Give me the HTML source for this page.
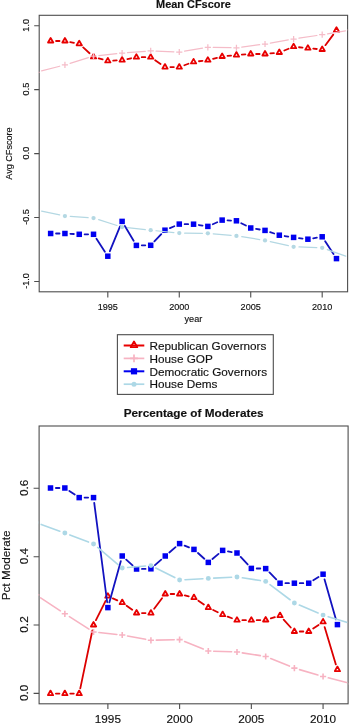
<!DOCTYPE html>
<html><head><meta charset="utf-8"><style>
html,body{margin:0;padding:0;background:#fff;}
body{width:350px;height:726px;overflow:hidden;}
svg{display:block;font-family:"Liberation Sans",sans-serif;will-change:transform;}
text{fill:#111;stroke:#111;stroke-width:0.15px;}
</style></head><body>
<svg width="350" height="726" viewBox="0 0 350 726">
<rect width="350" height="726" fill="#fff"/>
<defs><clipPath id="c1"><rect x="38.60" y="14.70" width="309.60" height="277.70"/></clipPath>
<clipPath id="c2"><rect x="38.50" y="425.40" width="310.20" height="279.00"/></clipPath></defs>
<rect x="39.20" y="15.30" width="308.40" height="276.50" fill="none" stroke="#4d4d4d" stroke-width="1.1"/>
<path d="M34.20 25.80H39.20 M34.20 89.60H39.20 M34.20 153.60H39.20 M34.20 217.50H39.20 M34.20 281.50H39.20 M107.81 291.80V297.50 M179.27 291.80V297.50 M250.73 291.80V297.50 M322.19 291.80V297.50" stroke="#4d4d4d" stroke-width="1.1" fill="none"/>
<text x="0" y="0" transform="translate(28.60 25.30) rotate(-90)" text-anchor="middle" font-size="9.10">1.0</text>
<text x="0" y="0" transform="translate(28.60 89.10) rotate(-90)" text-anchor="middle" font-size="9.10">0.5</text>
<text x="0" y="0" transform="translate(28.60 153.10) rotate(-90)" text-anchor="middle" font-size="9.10">0.0</text>
<text x="0" y="0" transform="translate(28.60 217.00) rotate(-90)" text-anchor="middle" font-size="9.10">-0.5</text>
<text x="0" y="0" transform="translate(28.60 281.00) rotate(-90)" text-anchor="middle" font-size="9.10">-1.0</text>
<text x="107.81" y="309.70" text-anchor="middle" font-size="9.10">1995</text>
<text x="179.27" y="309.70" text-anchor="middle" font-size="9.10">2000</text>
<text x="250.73" y="309.70" text-anchor="middle" font-size="9.10">2005</text>
<text x="322.19" y="309.70" text-anchor="middle" font-size="9.10">2010</text>
<text x="0" y="0" transform="translate(12.30 153.55) rotate(-90)" text-anchor="middle" font-size="9.10">Avg CFscore</text>
<text x="193.40" y="321.90" text-anchor="middle" font-size="9.10">year</text>
<text x="0" y="0" transform="translate(193.40 8.20) scale(1 0.950)" text-anchor="middle" font-size="10.95" font-weight="bold">Mean CFscore</text>
<g clip-path="url(#c1)">
<path d="M56.04 41.00L59.53 41.00 M70.23 42.04L73.93 42.76 M83.21 47.45L89.54 53.25 M98.72 58.36L102.61 59.44 M113.20 60.60L116.71 60.40 M127.39 59.03L131.10 58.27 M141.79 57.20L145.29 57.20 M155.13 60.27L160.54 64.03 M170.38 67.10L173.87 67.10 M184.34 65.25L188.49 63.75 M198.92 61.26L202.49 60.84 M213.08 58.85L216.92 57.85 M227.52 55.97L231.06 55.63 M241.82 54.69L245.35 54.41 M256.13 54.00L259.62 54.00 M270.39 53.44L273.94 53.06 M284.32 50.47L288.60 48.73 M298.98 47.26L302.53 47.64 M313.28 48.69L316.81 49.01 M325.41 45.17L333.26 34.63" stroke="#dc0000" stroke-width="1.80" fill="none" stroke-linecap="round"/>
<path d="M50.64 37.97L53.27 42.52L48.02 42.52Z M64.93 37.97L67.56 42.52L62.31 42.52Z M79.23 40.77L81.85 45.32L76.60 45.32Z M93.52 53.87L96.14 58.42L90.89 58.42Z M107.81 57.87L110.44 62.42L105.18 62.42Z M122.10 57.07L124.73 61.62L119.48 61.62Z M136.39 54.17L139.02 58.72L133.77 58.72Z M150.69 54.17L153.31 58.72L148.06 58.72Z M164.98 64.07L167.60 68.62L162.35 68.62Z M179.27 64.07L181.90 68.62L176.64 68.62Z M193.56 58.87L196.19 63.42L190.94 63.42Z M207.85 57.17L210.48 61.72L205.23 61.72Z M222.15 53.47L224.77 58.02L219.52 58.02Z M236.44 52.07L239.06 56.62L233.81 56.62Z M250.73 50.97L253.36 55.52L248.10 55.52Z M265.02 50.97L267.65 55.52L262.40 55.52Z M279.31 49.47L281.94 54.02L276.69 54.02Z M293.61 43.67L296.23 48.22L290.98 48.22Z M307.90 45.17L310.52 49.72L305.27 49.72Z M322.19 46.47L324.82 51.02L319.56 51.02Z M336.48 27.27L339.11 31.82L333.86 31.82Z" stroke="#e80000" stroke-width="1.80" fill="none" stroke-linejoin="round"/>
<path d="M41.58 70.95L59.71 66.25 M70.09 63.31L88.36 57.69 M98.89 55.54L116.73 53.66 M127.49 52.69L145.30 51.31 M156.08 51.11L173.87 51.79 M184.60 51.12L202.53 48.18 M213.25 47.39L231.04 47.71 M241.79 47.09L259.67 44.71 M270.34 43.07L288.29 39.93 M298.95 38.20L316.85 35.50 M327.52 33.81L345.45 30.79" stroke="#f5bcc8" stroke-width="1.25" fill="none" stroke-linecap="round"/>
<path d="M33.25 72.30H39.45M36.35 69.20V75.40 M61.83 64.90H68.03M64.93 61.80V68.00 M90.42 56.10H96.62M93.52 53.00V59.20 M119.00 53.10H125.20M122.10 50.00V56.20 M147.59 50.90H153.79M150.69 47.80V54.00 M176.17 52.00H182.37M179.27 48.90V55.10 M204.75 47.30H210.95M207.85 44.20V50.40 M233.34 47.80H239.54M236.44 44.70V50.90 M261.92 44.00H268.12M265.02 40.90V47.10 M290.51 39.00H296.71M293.61 35.90V42.10 M319.09 34.70H325.29M322.19 31.60V37.80 M347.67 29.90H353.87M350.77 26.80V33.00" stroke="#f5bcc8" stroke-width="1.25" fill="none"/>
<path d="M56.04 233.50L59.53 233.50 M70.33 233.80L73.83 234.00 M84.63 234.30L88.12 234.30 M96.47 238.82L104.86 251.68 M109.86 251.20L120.05 226.40 M124.86 226.04L133.63 240.76 M141.79 245.36L145.29 245.34 M154.40 241.38L161.27 234.12 M169.94 228.08L174.30 226.22 M184.67 224.14L188.16 224.16 M198.90 225.02L202.52 225.58 M212.80 224.22L217.20 222.28 M227.54 220.36L231.04 220.54 M241.26 223.23L245.91 225.57 M256.06 228.89L259.70 229.51 M270.14 232.12L274.19 233.48 M284.65 236.02L288.27 236.58 M298.96 238.07L302.54 238.53 M313.22 238.31L316.86 237.69 M325.15 241.32L333.52 254.08" stroke="#1212c0" stroke-width="1.80" fill="none" stroke-linecap="round"/>
<g fill="#0000f0"><rect x="47.89" y="230.75" width="5.50" height="5.50"/><rect x="62.18" y="230.75" width="5.50" height="5.50"/><rect x="76.48" y="231.55" width="5.50" height="5.50"/><rect x="90.77" y="231.55" width="5.50" height="5.50"/><rect x="105.06" y="253.45" width="5.50" height="5.50"/><rect x="119.35" y="218.65" width="5.50" height="5.50"/><rect x="133.64" y="242.65" width="5.50" height="5.50"/><rect x="147.94" y="242.55" width="5.50" height="5.50"/><rect x="162.23" y="227.45" width="5.50" height="5.50"/><rect x="176.52" y="221.35" width="5.50" height="5.50"/><rect x="190.81" y="221.45" width="5.50" height="5.50"/><rect x="205.10" y="223.65" width="5.50" height="5.50"/><rect x="219.40" y="217.35" width="5.50" height="5.50"/><rect x="233.69" y="218.05" width="5.50" height="5.50"/><rect x="247.98" y="225.25" width="5.50" height="5.50"/><rect x="262.27" y="227.65" width="5.50" height="5.50"/><rect x="276.56" y="232.45" width="5.50" height="5.50"/><rect x="290.86" y="234.65" width="5.50" height="5.50"/><rect x="305.15" y="236.45" width="5.50" height="5.50"/><rect x="319.44" y="234.05" width="5.50" height="5.50"/><rect x="333.73" y="255.85" width="5.50" height="5.50"/></g>
<path d="M41.63 211.13L59.65 214.97 M70.32 216.48L88.13 217.72 M98.67 219.72L116.95 225.48 M127.47 227.68L145.32 229.62 M156.06 230.75L173.90 232.55 M184.67 233.14L202.45 233.26 M213.23 233.79L231.06 235.41 M241.77 236.74L259.69 239.56 M270.29 241.58L288.34 245.62 M299.00 246.99L316.79 247.61 M327.28 249.61L345.69 256.19" stroke="#b4d8e3" stroke-width="1.25" fill="none" stroke-linecap="round"/>
<g fill="#b4d8e3"><circle cx="36.35" cy="210.00" r="2.15"/><circle cx="64.93" cy="216.10" r="2.15"/><circle cx="93.52" cy="218.10" r="2.15"/><circle cx="122.10" cy="227.10" r="2.15"/><circle cx="150.69" cy="230.20" r="2.15"/><circle cx="179.27" cy="233.10" r="2.15"/><circle cx="207.85" cy="233.30" r="2.15"/><circle cx="236.44" cy="235.90" r="2.15"/><circle cx="265.02" cy="240.40" r="2.15"/><circle cx="293.61" cy="246.80" r="2.15"/><circle cx="322.19" cy="247.80" r="2.15"/><circle cx="350.77" cy="258.00" r="2.15"/></g>
</g>
<rect x="117.40" y="334.70" width="155.90" height="59.70" fill="none" stroke="#4d4d4d" stroke-width="1.1"/>
<path d="M123.70 345.50H144.30" stroke="#e80000" stroke-width="2.00"/>
<path d="M134.00 341.44L137.30 347.16L130.70 347.16Z" stroke="#e80000" stroke-width="1.8" fill="none" stroke-linejoin="round"/>
<text x="149.5" y="349.70" font-size="11.75">Republican Governors</text>
<path d="M123.70 358.40H144.30" stroke="#f7b3c2" stroke-width="1.70"/>
<path d="M130.10 358.40H137.90M134.00 354.50V362.30" stroke="#f7b3c2" stroke-width="1.7" fill="none"/>
<text x="149.5" y="362.60" font-size="11.75">House GOP</text>
<path d="M123.70 371.30H144.30" stroke="#0000f0" stroke-width="2.00"/>
<g fill="#0000f0"><rect x="130.90" y="368.20" width="6.20" height="6.20"/></g>
<text x="149.5" y="375.50" font-size="11.75">Democratic Governors</text>
<path d="M123.70 384.20H144.30" stroke="#add8e6" stroke-width="1.70"/>
<circle cx="134.00" cy="384.20" r="2.5" fill="#add8e6"/>
<text x="149.5" y="388.40" font-size="11.75">House Dems</text>
<rect x="39.10" y="426.00" width="309.00" height="277.80" fill="none" stroke="#4d4d4d" stroke-width="1.1"/>
<path d="M33.60 693.40H39.10 M33.60 625.00H39.10 M33.60 556.70H39.10 M33.60 488.30H39.10 M107.88 703.80V709.10 M179.61 703.80V709.10 M251.34 703.80V709.10 M323.07 703.80V709.10" stroke="#4d4d4d" stroke-width="1.1" fill="none"/>
<text x="0" y="0" transform="translate(27.90 692.90) rotate(-90)" text-anchor="middle" font-size="11.75">0.0</text>
<text x="0" y="0" transform="translate(27.90 624.50) rotate(-90)" text-anchor="middle" font-size="11.75">0.2</text>
<text x="0" y="0" transform="translate(27.90 556.20) rotate(-90)" text-anchor="middle" font-size="11.75">0.4</text>
<text x="0" y="0" transform="translate(27.90 487.80) rotate(-90)" text-anchor="middle" font-size="11.75">0.6</text>
<text x="107.88" y="723.10" text-anchor="middle" font-size="11.75">1995</text>
<text x="179.61" y="723.10" text-anchor="middle" font-size="11.75">2000</text>
<text x="251.34" y="723.10" text-anchor="middle" font-size="11.75">2005</text>
<text x="323.07" y="723.10" text-anchor="middle" font-size="11.75">2010</text>
<text x="0" y="0" transform="translate(9.95 565.40) rotate(-90)" text-anchor="middle" font-size="11.75">Pct Moderate</text>
<text x="0" y="0" transform="translate(193.60 417.40) scale(1 1.000)" text-anchor="middle" font-size="11.75" font-weight="bold">Percentage of Moderates</text>
<g clip-path="url(#c2)">
<path d="M55.90 693.60L59.44 693.60 M70.24 693.60L73.79 693.60 M80.29 688.31L92.43 630.29 M95.94 620.17L105.47 601.03 M112.81 598.40L117.29 600.40 M126.60 605.77L132.20 609.83 M141.97 613.04L145.52 613.06 M154.16 608.78L162.02 598.32 M170.66 594.00L174.21 594.00 M184.85 595.31L188.72 596.29 M198.39 600.69L203.87 604.51 M213.16 609.97L217.79 612.23 M227.68 616.56L231.96 618.24 M242.39 620.20L245.94 620.20 M256.74 620.12L260.29 620.08 M270.85 618.42L274.87 617.18 M283.65 619.61L290.76 627.49 M299.78 631.50L303.32 631.50 M313.21 628.50L318.58 624.90 M324.63 627.07L335.86 664.43" stroke="#dc0000" stroke-width="1.80" fill="none" stroke-linecap="round"/>
<path d="M50.50 690.57L53.12 695.12L47.87 695.12Z M64.84 690.57L67.47 695.12L62.22 695.12Z M79.19 690.57L81.81 695.12L76.56 695.12Z M93.53 621.97L96.16 626.52L90.91 626.52Z M107.88 593.17L110.51 597.72L105.25 597.72Z M122.23 599.57L124.85 604.12L119.60 604.12Z M136.57 609.97L139.20 614.52L133.95 614.52Z M150.92 610.07L153.54 614.62L148.29 614.62Z M165.26 590.97L167.89 595.52L162.64 595.52Z M179.61 590.97L182.24 595.52L176.98 595.52Z M193.96 594.57L196.58 599.12L191.33 599.12Z M208.30 604.57L210.93 609.12L205.68 609.12Z M222.65 611.57L225.27 616.12L220.02 616.12Z M236.99 617.17L239.62 621.72L234.37 621.72Z M251.34 617.17L253.97 621.72L248.71 621.72Z M265.69 616.97L268.31 621.52L263.06 621.52Z M280.03 612.57L282.66 617.12L277.41 617.12Z M294.38 628.47L297.00 633.02L291.75 633.02Z M308.72 628.47L311.35 633.02L306.10 633.02Z M323.07 618.87L325.70 623.42L320.44 623.42Z M337.42 666.57L340.04 671.12L334.79 671.12Z" stroke="#e80000" stroke-width="1.80" fill="none" stroke-linejoin="round"/>
<path d="M40.66 597.87L60.33 610.83 M69.40 616.69L88.97 629.11 M98.90 632.56L116.86 634.44 M127.54 635.98L145.61 639.32 M156.32 640.17L174.21 639.73 M184.63 641.59L203.28 649.01 M213.70 651.19L231.60 651.81 M242.33 652.84L260.35 655.66 M270.69 658.52L289.37 666.08 M299.56 669.62L317.89 674.98 M328.30 677.85L346.53 682.55" stroke="#f7b3c2" stroke-width="1.60" fill="none" stroke-linecap="round"/>
<path d="M33.05 594.90H39.25M36.15 591.80V598.00 M61.74 613.80H67.94M64.84 610.70V616.90 M90.43 632.00H96.63M93.53 628.90V635.10 M119.13 635.00H125.33M122.23 631.90V638.10 M147.82 640.30H154.02M150.92 637.20V643.40 M176.51 639.60H182.71M179.61 636.50V642.70 M205.20 651.00H211.40M208.30 647.90V654.10 M233.89 652.00H240.09M236.99 648.90V655.10 M262.59 656.50H268.79M265.69 653.40V659.60 M291.28 668.10H297.48M294.38 665.00V671.20 M319.97 676.50H326.17M323.07 673.40V679.60 M348.66 683.90H354.86M351.76 680.80V687.00" stroke="#f7b3c2" stroke-width="1.60" fill="none"/>
<path d="M55.90 488.00L59.44 488.00 M69.33 491.00L74.70 494.60 M84.59 497.60L88.13 497.60 M94.23 502.95L107.18 602.25 M109.33 602.40L120.78 561.20 M126.23 559.63L132.57 565.37 M141.97 568.92L145.52 568.88 M154.95 565.20L161.23 559.60 M169.35 552.47L175.52 547.13 M184.62 545.62L188.95 547.38 M197.96 553.03L204.30 558.77 M212.44 558.94L218.51 553.86 M227.96 551.36L231.68 552.04 M240.67 556.95L247.66 564.45 M256.74 568.48L260.29 568.52 M269.47 572.45L276.25 579.35 M285.43 583.20L288.98 583.20 M299.78 583.20L303.32 583.20 M313.30 580.33L318.50 577.07 M324.55 579.39L335.94 619.41" stroke="#1212c0" stroke-width="1.80" fill="none" stroke-linecap="round"/>
<g fill="#0000f0"><rect x="47.75" y="485.25" width="5.50" height="5.50"/><rect x="62.09" y="485.25" width="5.50" height="5.50"/><rect x="76.44" y="494.85" width="5.50" height="5.50"/><rect x="90.78" y="494.85" width="5.50" height="5.50"/><rect x="105.13" y="604.85" width="5.50" height="5.50"/><rect x="119.48" y="553.25" width="5.50" height="5.50"/><rect x="133.82" y="566.25" width="5.50" height="5.50"/><rect x="148.17" y="566.05" width="5.50" height="5.50"/><rect x="162.51" y="553.25" width="5.50" height="5.50"/><rect x="176.86" y="540.85" width="5.50" height="5.50"/><rect x="191.21" y="546.65" width="5.50" height="5.50"/><rect x="205.55" y="559.65" width="5.50" height="5.50"/><rect x="219.90" y="547.65" width="5.50" height="5.50"/><rect x="234.24" y="550.25" width="5.50" height="5.50"/><rect x="248.59" y="565.65" width="5.50" height="5.50"/><rect x="262.94" y="565.85" width="5.50" height="5.50"/><rect x="277.28" y="580.45" width="5.50" height="5.50"/><rect x="291.63" y="580.45" width="5.50" height="5.50"/><rect x="305.97" y="580.45" width="5.50" height="5.50"/><rect x="320.32" y="571.45" width="5.50" height="5.50"/><rect x="334.67" y="621.85" width="5.50" height="5.50"/></g>
<path d="M41.23 524.44L59.77 531.16 M69.88 534.93L88.49 542.07 M97.68 547.46L118.08 564.54 M127.61 567.55L145.54 566.05 M155.74 568.02L174.78 577.58 M185.00 579.70L202.91 578.70 M213.70 578.14L231.60 577.26 M242.33 577.82L260.35 580.58 M270.00 584.65L290.06 599.75 M299.35 605.10L318.09 613.00 M328.23 616.68L346.60 622.32" stroke="#add8e6" stroke-width="1.60" fill="none" stroke-linecap="round"/>
<g fill="#add8e6"><circle cx="36.15" cy="522.60" r="2.45"/><circle cx="64.84" cy="533.00" r="2.45"/><circle cx="93.53" cy="544.00" r="2.45"/><circle cx="122.23" cy="568.00" r="2.45"/><circle cx="150.92" cy="565.60" r="2.45"/><circle cx="179.61" cy="580.00" r="2.45"/><circle cx="208.30" cy="578.40" r="2.45"/><circle cx="236.99" cy="577.00" r="2.45"/><circle cx="265.69" cy="581.40" r="2.45"/><circle cx="294.38" cy="603.00" r="2.45"/><circle cx="323.07" cy="615.10" r="2.45"/><circle cx="351.76" cy="623.90" r="2.45"/></g>
</g>
</svg>
</body></html>
